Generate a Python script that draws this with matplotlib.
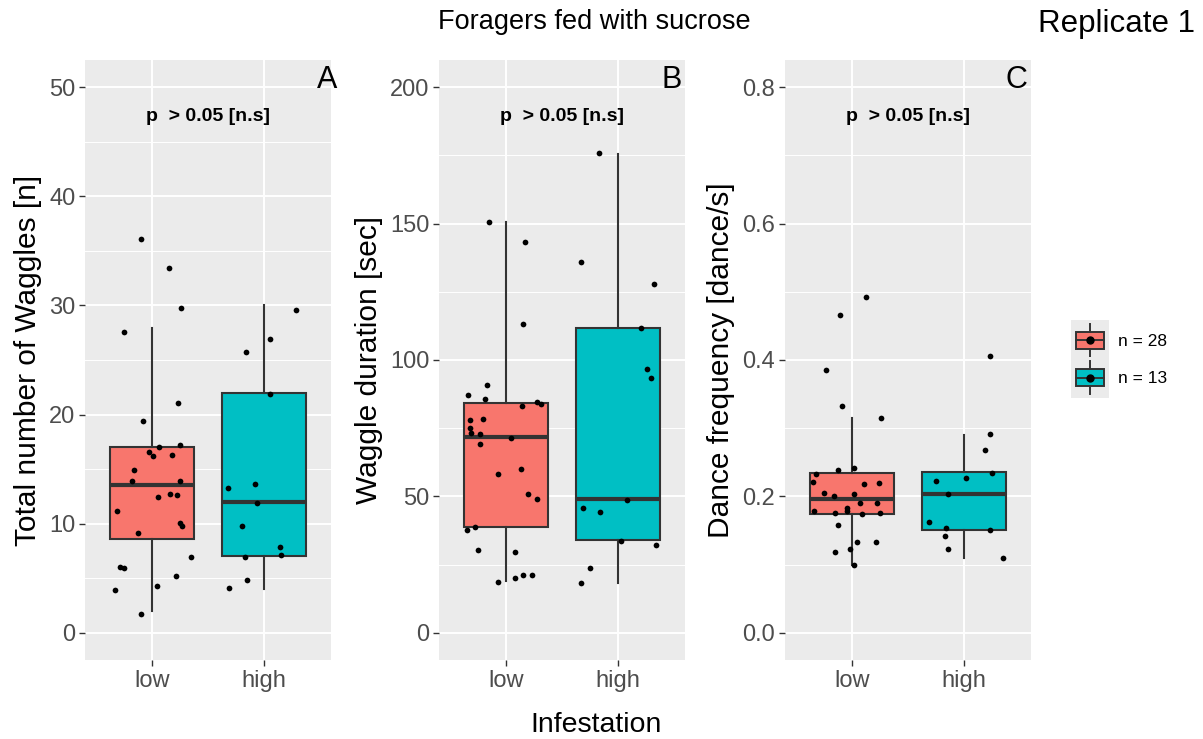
import matplotlib.pyplot as plt
from matplotlib.legend_handler import HandlerBase
from matplotlib.patches import Rectangle
from matplotlib.lines import Line2D

plt.rcParams['font.family'] = ['Liberation Sans', 'DejaVu Sans']

groups = ['low', 'high']
colors = ['#F8766D', '#00BFC4']
legend_labels = ['n = 28', 'n = 13']

# Panel A: total number of waggles
a_low = [36.1, 33.4, 29.8, 27.6, 21.1, 19.4, 17.0, 17.2, 16.6, 16.2, 16.3, 14.9, 13.9, 13.9,
         12.7, 12.6, 12.4, 11.2, 10.1, 9.8, 9.1, 6.9, 6.0, 5.9, 5.2, 4.25, 3.9, 1.7]
a_low_dx = [-0.10, 0.15, 0.26, -0.25, 0.23, -0.08, 0.06, 0.25, -0.03, 0.01, 0.18, -0.16, -0.18, 0.25,
            0.16, 0.22, 0.05, -0.31, 0.25, 0.27, -0.13, 0.35, -0.29, -0.25, 0.21, 0.04, -0.33, -0.10]
a_high = [29.6, 26.9, 25.7, 21.9, 13.3, 13.6, 11.9, 9.8, 7.9, 7.1, 6.9, 4.1, 4.8]
a_high_dx = [0.29, 0.05, -0.16, 0.05, -0.32, -0.08, -0.06, -0.20, 0.14, 0.15, -0.17, -0.31, -0.15]
a_box = {'whislo': [2.0, 4.0], 'q1': [8.6, 7.0], 'med': [13.5, 12.0], 'q3': [17.0, 22.0], 'whishi': [27.9, 30.0]}

# Panel B: waggle duration
b_low = [150.6, 143.1, 113.3, 91.0, 87.1, 85.7, 84.7, 83.9, 83.1, 78.0, 78.3, 74.9, 73.1, 72.9,
         71.4, 69.3, 58.1, 60.1, 50.7, 48.9, 38.7, 37.7, 30.4, 29.7, 18.6, 20.1, 21.1, 21.1]
b_low_dx = [-0.15, 0.17, 0.15, -0.17, -0.34, -0.19, 0.28, 0.31, 0.14, -0.32, -0.21, -0.32, -0.31, -0.23,
            0.04, -0.23, -0.07, 0.13, 0.20, 0.28, -0.28, -0.35, -0.25, 0.08, -0.07, 0.08, 0.15, 0.23]
b_high = [176.0, 136.0, 128.0, 111.7, 96.7, 93.3, 48.6, 45.9, 44.1, 33.6, 32.0, 23.6, 18.1]
b_high_dx = [-0.17, -0.33, 0.32, 0.21, 0.26, 0.30, 0.08, -0.31, -0.16, 0.03, 0.34, -0.25, -0.33]
b_box = {'whislo': [19.0, 18.1], 'q1': [38.7, 34.1], 'med': [71.9, 49.0], 'q3': [84.1, 111.7], 'whishi': [150.7, 175.7]}

# Panel C: dance frequency
c_low = [0.493, 0.466, 0.385, 0.333, 0.315, 0.241, 0.238, 0.233, 0.221, 0.218, 0.219, 0.205, 0.200, 0.204,
         0.190, 0.190, 0.183, 0.178, 0.179, 0.175, 0.174, 0.176, 0.158, 0.133, 0.133, 0.123, 0.118, 0.100]
c_low_dx = [0.12, -0.11, -0.23, -0.09, 0.26, 0.02, -0.13, -0.32, -0.35, 0.11, 0.24, -0.25, -0.16, 0.02,
            0.07, 0.22, -0.05, -0.05, -0.34, -0.15, 0.09, 0.25, -0.13, 0.04, 0.21, -0.02, -0.15, 0.02]
c_high = [0.406, 0.291, 0.268, 0.235, 0.222, 0.227, 0.203, 0.162, 0.154, 0.150, 0.142, 0.123, 0.109]
c_high_dx = [0.23, 0.23, 0.19, 0.25, -0.25, 0.02, -0.14, -0.31, -0.16, 0.23, -0.17, -0.14, 0.35]
c_box = {'whislo': [0.099, 0.109], 'q1': [0.174, 0.150], 'med': [0.196, 0.204], 'q3': [0.235, 0.236], 'whishi': [0.315, 0.290]}

panels = [
    ('A', 'Total number of Waggles [n]', a_box, [a_low, a_high], [a_low_dx, a_high_dx],
     [0, 10, 20, 30, 40, 50], ['0', '10', '20', '30', '40', '50'], 50, 1.024),
    ('B', 'Waggle duration [sec]', b_box, [b_low, b_high], [b_low_dx, b_high_dx],
     [0, 50, 100, 150, 200], ['0', '50', '100', '150', '200'], 200, 0.988),
    ('C', 'Dance frequency [dance/s]', c_box, [c_low, c_high], [c_low_dx, c_high_dx],
     [0.0, 0.2, 0.4, 0.6, 0.8], ['0.0', '0.2', '0.4', '0.6', '0.8'], 0.8, 0.984),
]


class BoxKey(HandlerBase):
    # ggplot-like legend key: grey square with a small box, whiskers and a dot
    def create_artists(self, legend, orig_handle, xdescent, ydescent, width, height, fontsize, trans):
        x0, y0 = -xdescent, -ydescent
        bg = Rectangle((x0, y0 - 0.1 * height), width, 1.2 * height, facecolor='#EBEBEB', edgecolor='none',
                       transform=trans)
        cx = x0 + width / 2
        box = Rectangle((x0 + 0.13 * width, y0 + 0.25 * height), 0.74 * width, 0.5 * height,
                        facecolor=orig_handle.get_markerfacecolor(), edgecolor='#333333', lw=1.4, transform=trans)
        w1 = Line2D([cx, cx], [y0 + 0.02 * height, y0 + 0.25 * height], color='#333333', lw=1.4, transform=trans)
        w2 = Line2D([cx, cx], [y0 + 0.75 * height, y0 + 0.98 * height], color='#333333', lw=1.4, transform=trans)
        med = Line2D([x0 + 0.13 * width, x0 + 0.87 * width], [y0 + 0.5 * height] * 2, color='#333333', lw=1.4,
                     transform=trans)
        dot = Line2D([cx], [y0 + 0.5 * height], marker='o', markersize=5, color='black', transform=trans)
        return [bg, box, w1, w2, med, dot]


fig = plt.figure(figsize=(12.03, 7.39), dpi=100)
lefts = [85, 439, 785]

for (tag, ylabel, st, pts, dxs, yticks, ylabels, ymax, tagx), left in zip(panels, lefts):
    ax = fig.add_axes([left / 1203, 79 / 739, 246 / 1203, 600 / 739])
    ax.set_facecolor('#EBEBEB')
    for s in ax.spines.values():
        s.set_visible(False)

    stats = []
    for i in range(2):
        stats.append({'whislo': st['whislo'][i], 'q1': st['q1'][i], 'med': st['med'][i],
                      'q3': st['q3'][i], 'whishi': st['whishi'][i], 'fliers': []})
    bp = ax.bxp(stats, positions=[1, 2], widths=0.75, patch_artist=True, showcaps=False,
                boxprops=dict(edgecolor='#333333', linewidth=1.5),
                whiskerprops=dict(color='#333333', linewidth=1.5),
                medianprops=dict(color='#333333', linewidth=3.0, solid_capstyle='butt'),
                zorder=2)
    for patch, c in zip(bp['boxes'], colors):
        patch.set_facecolor(c)

    for i in range(2):
        xs = [i + 1 + d for d in dxs[i]]
        ax.scatter(xs, pts[i], s=17, color='black', zorder=3, linewidths=0)

    ax.set_xlim(0.4, 2.6)
    pad = ymax * 0.05
    ax.set_ylim(-pad, ymax + pad)
    ax.set_xticks([1, 2])
    ax.set_xticklabels(groups)
    ax.set_yticks(yticks)
    ax.set_yticklabels(ylabels)
    ax.set_yticks([(a + b) / 2 for a, b in zip(yticks[:-1], yticks[1:])], minor=True)
    ax.grid(which='major', color='white', linewidth=1.4, zorder=0)
    ax.grid(which='minor', axis='y', color='white', linewidth=0.7, zorder=0)
    ax.set_axisbelow(True)
    ax.tick_params(axis='both', which='major', colors='#333333', length=4, width=1,
                   labelsize=17, labelcolor='#4D4D4D', pad=3)
    ax.tick_params(axis='y', which='minor', length=0)
    ax.set_ylabel(ylabel, fontsize=21.5, labelpad=5)

    ax.text(1.5, 0.899, 'p  > 0.05 [n.s]', transform=ax.get_xaxis_transform(), ha='center', va='baseline',
            fontsize=14, fontweight='bold')
    ax.text(tagx, 0.953, tag, transform=ax.transAxes, ha='right', va='baseline', fontsize=22)

fig.text(594 / 1203, 1 - 22 / 739, 'Foragers fed with sucrose', ha='center', va='center', fontsize=19.5)
fig.text(1195 / 1203, 1 - 24 / 739, 'Replicate 1', ha='right', va='center', fontsize=22.5)
fig.text(596 / 1203, 1 - 725 / 739, 'Infestation', ha='center', va='center', fontsize=20.5)

handles = [Line2D([], [], markerfacecolor=c) for c in colors]
fig.legend(handles, legend_labels, handler_map={Line2D: BoxKey()}, loc='center left',
           bbox_to_anchor=(1064 / 1203, 1 - 359 / 739), frameon=False, fontsize=12.5,
           handlelength=2.2, handleheight=2.6, handletextpad=0.5, labelspacing=0.2, borderaxespad=0)

fig.savefig('out.png', dpi=100)
